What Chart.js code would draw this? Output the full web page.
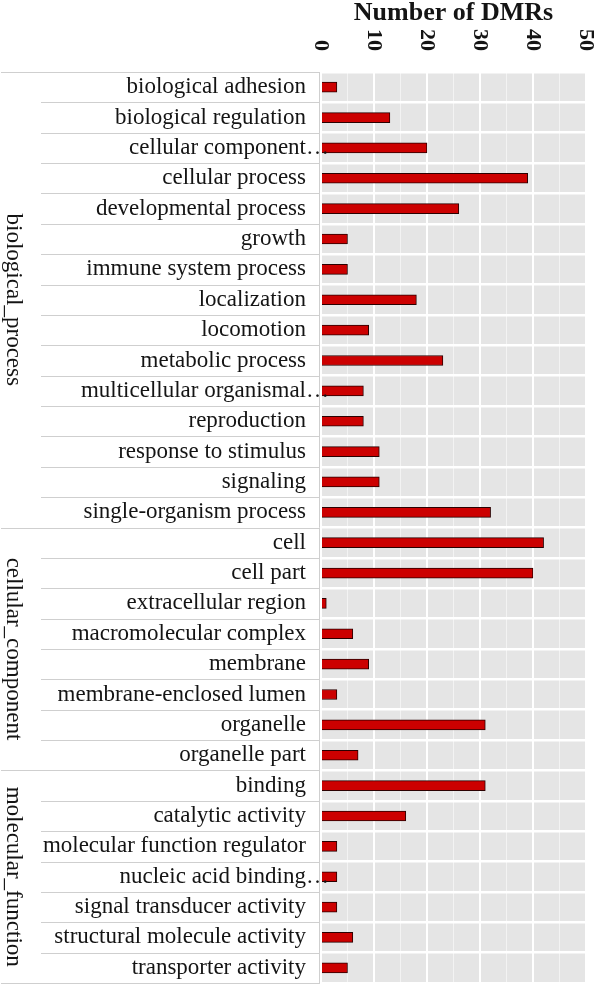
<!DOCTYPE html>
<html>
<head>
<meta charset="utf-8">
<script src="https://cdn.jsdelivr.net/npm/chart.js@4/dist/chart.umd.min.js"></script>
<style>
  html, body { margin: 0; padding: 0; background: #fff; }
  #wrap { width: 596px; height: 985px; }
</style>
</head>
<body>
<div id="wrap"><canvas id="goChart" width="596" height="985"></canvas></div>
<script>
// ---- data ----
const bioProcess = ['biological adhesion', 'biological regulation', 'cellular component…', 'cellular process',
  'developmental process', 'growth', 'immune system process', 'localization', 'locomotion',
  'metabolic process', 'multicellular organismal…', 'reproduction', 'response to stimulus',
  'signaling', 'single-organism process'];
const bioValues = [3, 13, 20, 39, 26, 5, 5, 18, 9, 23, 8, 8, 11, 11, 32];

const cellComponent = ['cell', 'cell part', 'extracellular region', 'macromolecular complex',
  'membrane', 'membrane-enclosed lumen', 'organelle', 'organelle part'];
const cellValues = [42, 40, 1, 6, 9, 3, 31, 7];

const molFunction = ['binding', 'catalytic activity', 'molecular function regulator',
  'nucleic acid binding…', 'signal transducer activity', 'structural molecule activity',
  'transporter activity'];
const molValues = [31, 16, 3, 3, 3, 6, 5];

const groupNames = ['biological_process', 'cellular_component', 'molecular_function'];
const groupSizes = [bioProcess.length, cellComponent.length, molFunction.length];
const xTicks = [0, 10, 20, 30, 40, 50];

const labels = [...bioProcess, ...cellComponent, ...molFunction];
const values = [...bioValues, ...cellValues, ...molValues];

const SERIF = '"Liberation Serif", "Times New Roman", serif';
const TEXT = '#141414';
const STRIP_LINE = '#cfcfcf';
const ELLIPSIS = '…';

// panel background, strip lines, group labels, top ticks and title
const decorations = {
  id: 'decorations',
  beforeDraw(chart) {
    const { ctx, chartArea: a } = chart;
    ctx.save();
    ctx.fillStyle = '#e5e5e5';
    ctx.fillRect(a.left, a.top, a.right - a.left, a.bottom - a.top);
    ctx.restore();
  },
  afterDraw(chart) {
    const { ctx, chartArea: a, scales } = chart;
    const x = scales.x, y = scales.y;
    const n = labels.length;
    const edge = i => {
      if (i <= 0) return a.top;
      if (i >= n) return a.bottom;
      return (y.getPixelForValue(i - 1) + y.getPixelForValue(i)) / 2;
    };

    ctx.save();
    ctx.strokeStyle = STRIP_LINE;
    ctx.lineWidth = 1;
    // row separators in label area
    const groupStarts = [0];
    groupSizes.forEach((s, k) => groupStarts.push(groupStarts[k] + s));
    for (let i = 0; i <= n; i++) {
      const yy = Math.round(edge(i)) + 0.5;
      const isGroup = groupStarts.includes(i);
      ctx.beginPath();
      ctx.moveTo(isGroup ? 1 : 41, yy);
      ctx.lineTo(a.left - 1, yy);
      ctx.stroke();
    }
    ctx.beginPath();
    ctx.moveTo(a.left - 1.5, a.top);
    ctx.lineTo(a.left - 1.5, a.bottom);
    ctx.stroke();

    // truncated labels: the ellipsis hangs past the label column
    ctx.fillStyle = TEXT;
    ctx.font = '23px ' + SERIF;
    ctx.textAlign = 'left';
    ctx.textBaseline = 'middle';
    labels.forEach((l, i) => {
      if (l.endsWith(ELLIPSIS)) ctx.fillText(ELLIPSIS, 306, y.getPixelForValue(i));
    });

    // group labels, rotated clockwise
    ctx.textAlign = 'center';
    groupNames.forEach((g, k) => {
      const mid = (edge(groupStarts[k]) + edge(groupStarts[k + 1])) / 2;
      ctx.save();
      ctx.translate(13, mid);
      ctx.rotate(Math.PI / 2);
      ctx.fillText(g, 0, 0);
      ctx.restore();
    });

    // top axis tick labels, rotated clockwise, ending just above the panel
    ctx.font = 'bold 22px ' + SERIF;
    ctx.textAlign = 'right';
    xTicks.forEach(v => {
      ctx.save();
      ctx.translate(x.getPixelForValue(v), 51);
      ctx.rotate(Math.PI / 2);
      ctx.fillText(String(v), 0, 0);
      ctx.restore();
    });

    // axis title
    ctx.font = 'bold 26px ' + SERIF;
    ctx.textAlign = 'center';
    ctx.textBaseline = 'alphabetic';
    ctx.fillText('Number of DMRs', (a.left + a.right) / 2, 20);
    ctx.restore();
  }
};

new Chart(document.getElementById('goChart'), {
  type: 'bar',
  data: {
    labels: labels,
    datasets: [{
      data: values,
      backgroundColor: '#cc0000',
      borderColor: '#2a0000',
      borderWidth: 1,
      barThickness: 10,
    }],
  },
  options: {
    indexAxis: 'y',
    responsive: false,
    animation: false,
    layout: { padding: { top: 72, right: 10, bottom: 2, left: 0 } },
    plugins: {
      legend: { display: false },
      tooltip: { enabled: false },
    },
    scales: {
      x: {
        position: 'top',
        min: 0,
        max: 50,
        ticks: { display: false, stepSize: 5 },
        border: { display: false },
        grid: {
          color: ctx => (ctx.tick && ctx.tick.value % 10 === 0 ? '#ffffff' : 'rgba(255,255,255,0.55)'),
          drawTicks: false,
          lineWidth: ctx => (ctx.tick && ctx.tick.value % 10 === 0 ? 2 : 1),
        },
        afterFit: s => { s.height = 0; },
      },
      y: {
        position: 'left',
        border: { display: false },
        grid: { color: '#ffffff', lineWidth: 2.5, drawTicks: false, offset: true },
        ticks: {
          color: TEXT,
          font: { family: SERIF, size: 23 },
          padding: 15,
          autoSkip: false,
          callback: function (v) {
            const l = this.getLabelForValue(v);
            return l.endsWith(ELLIPSIS) ? l.slice(0, -1) : l;
          },
        },
        afterFit: s => {
          s.width = 321;
          s.paddingTop = 0;
          s.paddingBottom = 0;
        },
      },
    },
  },
  plugins: [decorations],
});
</script>
</body>
</html>
